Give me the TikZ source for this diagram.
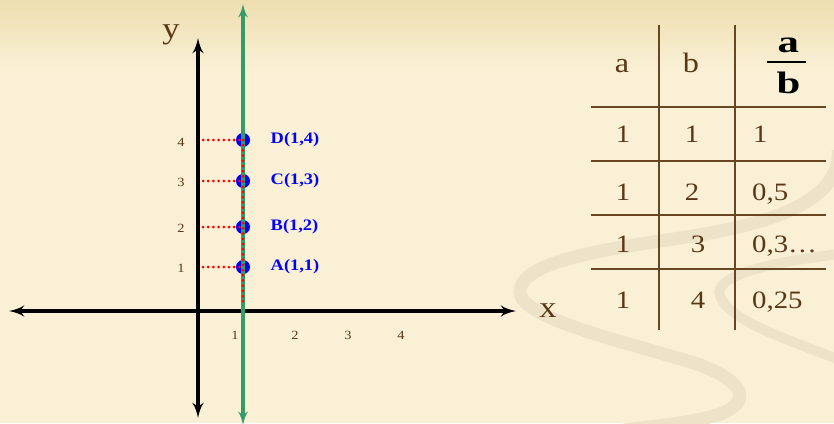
\documentclass[tikz,border=0pt]{standalone}
\usepackage{amsmath,amssymb}
\usepackage{fontspec}
\setmainfont{Liberation Serif}[FakeStretch=1.15]
\usepackage{xcolor}
\usepackage{graphicx}
\usepackage{tikz}
\usetikzlibrary{arrows,positioning}

\definecolor{bgtop}{RGB}{238,222,176}
\definecolor{bgmain}{RGB}{249,240,213}
\definecolor{swirl}{RGB}{236,227,200}
\definecolor{txtbrown}{RGB}{90,55,22}
\definecolor{rulebrown}{RGB}{105,70,35}
\definecolor{linegreen}{RGB}{52,155,105}

\begin{document}
\begin{tikzpicture}[x=1pt, y=-1pt,
  axis/.style={draw, line width=4.2pt, latex'-latex'},
  vline/.style={draw=linegreen, line width=3.6pt, latex'-latex'},
  guideline/.style={draw=red, line width=3pt, line cap=round, dash pattern=on 0pt off 5.2pt},
  ptdot/.style={circle, fill=blue, inner sep=0pt, minimum size=14pt},
  ptlabel/.style={anchor=west, text=blue, font=\fontsize{16}{16}\selectfont\bfseries},
  ticklab/.style={text=txtbrown, font=\fontsize{12.5}{12.5}\selectfont},
  axlabel/.style={anchor=base, text=txtbrown, font=\fontsize{30}{30}\selectfont},
  cell/.style={anchor=base, inner sep=0pt, text=txtbrown, font=\fontsize{25}{25}\selectfont},
  headcell/.style={cell, font=\fontsize{28}{28}\selectfont},
  fracpart/.style={anchor=base, inner sep=0pt, font=\fontsize{31}{31}\selectfont},
  tabrule/.style={draw=rulebrown, line width=1.1pt}]

  % Background
  \useasboundingbox (0,0) rectangle (834,423);
  \fill[bgmain] (0,0) rectangle (834,423);
  \shade[top color=bgtop, bottom color=bgmain] (0,0) rectangle (834,70);
  \draw[swirl, line width=13pt] (838,150) .. controls (842,205) and (760,226) .. (680,238) .. controls (600,250) and (520,262) .. (520,292) .. controls (520,320) and (640,345) .. (700,365) .. controls (745,382) and (752,402) .. (720,414) .. controls (690,424) and (650,426) .. (610,432);
  \draw[swirl, line width=10pt] (840,254) .. controls (770,262) and (712,276) .. (720,296) .. controls (730,322) and (790,340) .. (840,360);

  % Axes
  \coordinate (xl) at (9,311);
  \coordinate (xr) at (516,311);
  \coordinate (yb) at (198,418);
  \coordinate (yt) at (198,38);
  \coordinate (gb) at (243,425);
  \coordinate (gt) at (243,4);
  \node[axlabel] (xlab) at (548,317) {x};
  \node[axlabel] (ylab) at (171,38) {y};
  \path[axis] (xl) -- (xr);
  \path[axis] (yb) -- (yt);

  % Ticks
  \node[ticklab] (x1) at (235,335) {1};
  \node[ticklab] (x2) at (295,335) {2};
  \node[ticklab] (x3) at (348,335) {3};
  \node[ticklab] (x4) at (401,335) {4};
  \node[ticklab] (y1) at (181,268) {1};
  \node[ticklab] (y2) at (181,228) {2};
  \node[ticklab] (y3) at (181,182) {3};
  \node[ticklab] (y4) at (181,142) {4};

  % Points
  \node[ptdot] (A) at (243,267) {};
  \node[ptdot] (B) at (243,227) {};
  \node[ptdot] (C) at (243,181) {};
  \node[ptdot] (D) at (243,140) {};
  \node[ptlabel, right=17pt of A] (Alab) {A(1,1)};
  \node[ptlabel, right=17pt of B] (Blab) {B(1,2)};
  \node[ptlabel, right=17pt of C] (Clab) {C(1,3)};
  \node[ptlabel, right=17pt of D] (Dlab) {D(1,4)};

  % Line x = 1
  \path[vline] (gb) -- (gt);

  % Guides
  \coordinate (g1) at (203,267);
  \coordinate (g2) at (203,227);
  \coordinate (g3) at (203,181);
  \coordinate (g4) at (203,140);
  \coordinate (g0) at (243,306);
  \path[guideline] (g1) -- (A.center);
  \path[guideline] (g2) -- (B.center);
  \path[guideline] (g3) -- (C.center);
  \path[guideline] (g4) -- (D.center);
  \path[guideline] (D.center) -- (g0);

  % Table
  \draw[tabrule] (659,25) -- (659,330);
  \draw[tabrule] (735,25) -- (735,330);
  \foreach \y in {107,161,215,269}
    \draw[tabrule] (591,\y) -- (826,\y);

  \node[headcell] (ha) at (622,72) {a};
  \node[headcell] (hb) at (691,72) {b};
  \node[fracpart] (fa) at (787,52) {\scalebox{1.2}[1]{$\mathbf{a}$}};
  \node[fracpart] (fb) at (787,93) {\scalebox{1.2}[1]{$\mathbf{b}$}};
  \draw[line width=1.8pt] (767,62) -- (806,62);

  \node[cell] (a1) at (623,142) {1};
  \node[cell] (b1) at (692,142) {1};
  \node[cell, anchor=base west] (q1) at (753,142) {1};
  \node[cell] (a2) at (623,200) {1};
  \node[cell] (b2) at (692,200) {2};
  \node[cell, anchor=base west] (q2) at (752,200) {0,5};
  \node[cell] (a3) at (623,252) {1};
  \node[cell] (b3) at (698,252) {3};
  \node[cell, anchor=base west] (q3) at (752,252) {0,3…};
  \node[cell] (a4) at (623,308) {1};
  \node[cell] (b4) at (698,308) {4};
  \node[cell, anchor=base west] (q4) at (752,308) {0,25};

\end{tikzpicture}
\end{document}
